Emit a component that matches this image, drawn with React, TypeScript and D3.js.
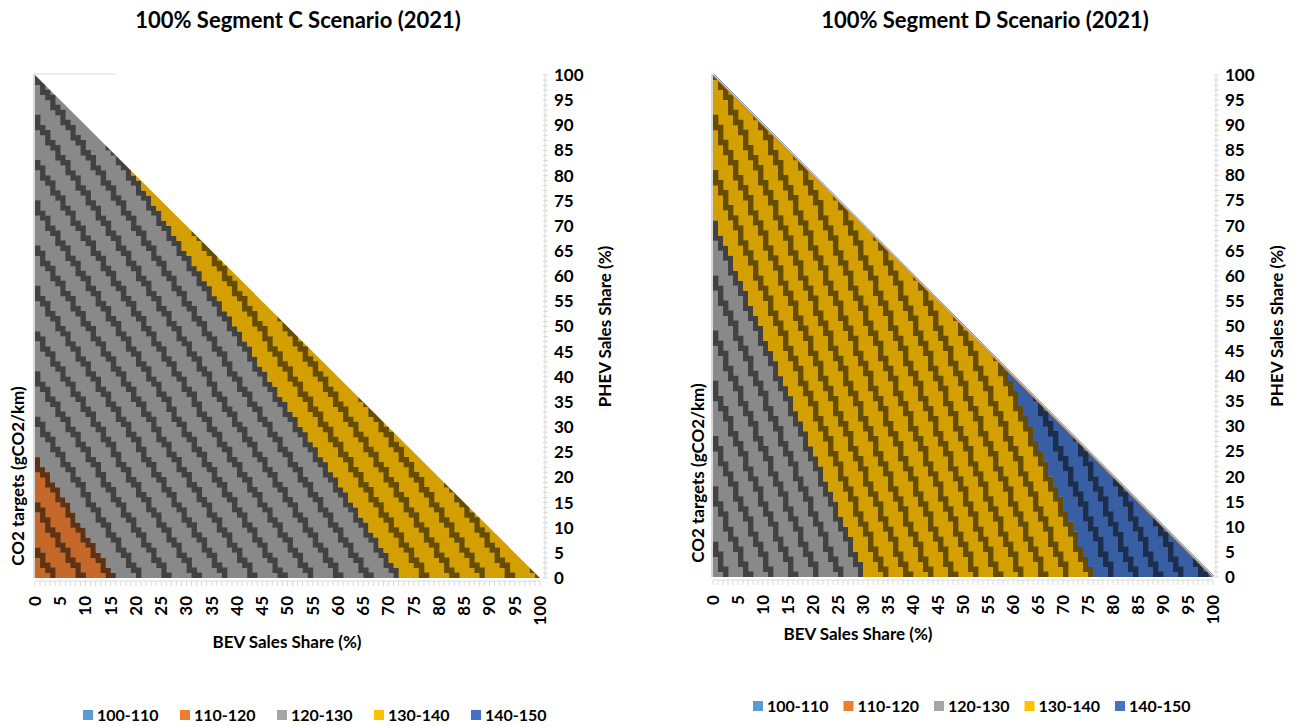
import React, { useMemo } from "react";
import * as d3 from "d3";

// CO2 target (gCO2/km) for a fleet made of 100% of one powertrain
const powertrains = ["ICE", "BEV", "PHEV"];
const segmentCTargets = [117.3, 135.0, 129.0];
const segmentDTargets = [123.4, 145.4, 132.8];

const bandLabels = ["100-110", "110-120", "120-130", "130-140", "140-150"];
const bandBreaks = [110, 120, 130, 140];
const bandColors = ["#5B9BD5", "#ED7D31", "#A5A5A5", "#FFC000", "#4472C4"];

const shareTicks = [0, 5, 10, 15, 20, 25, 30, 35, 40, 45, 50, 55, 60, 65, 70, 75, 80, 85, 90, 95, 100];

const FONT = "Lato, 'Open Sans', sans-serif";
const STEP = 1;

type PanelLayout = {
	title: string;
	targets: number[];
	x0: number;
	x1: number;
	yTop: number;
	yBot: number;
	axisX: number;
	titleX: number;
	xTitleX: number;
	xTitleY: number;
	leftTitleX: number;
	leftTitleY: number;
	rightTitleX: number;
	legendX: number;
	legendStep: number;
	legendY: number;
	edgeLine: boolean;
	topStub: number;
};

const panels: PanelLayout[] = [
	{
		title: "100% Segment C Scenario (2021)",
		targets: segmentCTargets,
		x0: 35, x1: 540, yTop: 75, yBot: 578, axisX: 545,
		titleX: 298, xTitleX: 287, xTitleY: 648, leftTitleX: 24, leftTitleY: 476, rightTitleX: 611,
		legendX: 83, legendStep: 97, legendY: 715, edgeLine: false, topStub: 16,
	},
	{
		title: "100% Segment D Scenario (2021)",
		targets: segmentDTargets,
		x0: 713, x1: 1213, yTop: 75, yBot: 577, axisX: 1216,
		titleX: 985, xTitleX: 858, xTitleY: 640, leftTitleX: 704, leftTitleY: 473, rightTitleX: 1283,
		legendX: 753, legendStep: 90.5, legendY: 706, edgeLine: true, topStub: 0,
	},
];

const shade = (c: string, k: number) => {
	const rgb = d3.rgb(c);
	return d3.rgb(rgb.r * k, rgb.g * k, rgb.b * k).formatHex();
};

const Panel: React.FC<{ p: PanelLayout; idx: number }> = ({ p, idx }) => {
	const x = d3.scaleLinear().domain([0, 100]).range([p.x0, p.x1]);
	const y = d3.scaleLinear().domain([0, 100]).range([p.yBot, p.yTop]);
	const band = d3.scaleThreshold<number, number>().domain(bandBreaks).range([0, 1, 2, 3, 4]);
	const ice = p.targets[powertrains.indexOf("ICE")];
	const bev = p.targets[powertrains.indexOf("BEV")];
	const phev = p.targets[powertrains.indexOf("PHEV")];
	const target = (b: number, s: number) =>
		ice * (1 - b / 100 - s / 100) + bev * (b / 100) + phev * (s / 100);

	// run-length encoded rows of cells, grouped into one path per colour
	const paths = useMemo(() => {
		const groups = new Map<string, string[]>();
		const n = Math.round(100 / STEP);
		for (let j = 0; j < n; j++) {
			const s = j * STEP;
			let runStart = 0;
			let runKey = "";
			const maxI = n - j;
			const flush = (endI: number) => {
				if (!runKey) return;
				const xa = x(runStart * STEP);
				const xb = x(endI * STEP) + 0.4;
				const ya = y(s + STEP) - 0.4;
				const yb = y(s);
				const arr = groups.get(runKey) || [];
				arr.push(`M${xa.toFixed(2)},${ya.toFixed(2)}H${xb.toFixed(2)}V${yb.toFixed(2)}H${xa.toFixed(2)}Z`);
				groups.set(runKey, arr);
			};
			for (let i = 0; i <= maxI; i++) {
				const b = i * STEP;
				const vLo = target(b, s);
				const vHi = target(b + STEP, s + STEP);
				// a cell that an integer contour passes through is drawn in the dark shade
				const dark = Math.floor(vLo) !== Math.floor(vHi);
				const bi = dark ? band(vLo) : band(target(b + STEP / 2, s + STEP / 2));
				const key = `${bi}|${dark ? 1 : 0}`;
				if (key !== runKey) {
					flush(i);
					runKey = key;
					runStart = i;
				}
			}
			flush(maxI + 1);
		}
		return Array.from(groups.entries()).map(([key, d]) => {
			const [bi, dark] = key.split("|").map(Number);
			return { key, d: d.join(""), fill: shade(bandColors[bi], dark ? 0.4 : 0.83) };
		});
	}, [p]);

	const clipId = `tri-${idx}`;
	const minor = d3.range(0, 101, 1);

	return (
		<g>
			<text x={p.titleX} y={28} textAnchor="middle" fontSize={22} fontWeight="bold" fill="#000">
				{p.title}
			</text>
			<defs>
				<clipPath id={clipId}>
					<polygon points={`${x(0)},${y(0)} ${x(100)},${y(0)} ${x(0)},${y(100)}`} />
				</clipPath>
			</defs>
			<line x1={x(0) - 1} x2={x(0) - 1} y1={y(100) - 1} y2={y(0)} stroke="#d9d9d9" strokeWidth={2} />
			{p.topStub > 0 && (
				<line x1={x(0) - 1} x2={x(p.topStub)} y1={y(100) - 1} y2={y(100) - 1} stroke="#e6e6e6" strokeWidth={1.5} />
			)}
			<g clipPath={`url(#${clipId})`}>
				{paths.map((g) => (
					<path key={g.key} d={g.d} fill={g.fill} />
				))}
			</g>
			{p.edgeLine && (
				<g>
					<line x1={x(0) + 1} y1={y(100) - 1} x2={x(100) + 1} y2={y(0) - 1} stroke="#5B9BD5" strokeWidth={1} />
					<line x1={x(0)} y1={y(100)} x2={x(100)} y2={y(0)} stroke="#d08a45" strokeWidth={1.3} />
				</g>
			)}
			{/* bottom axis */}
			<line x1={x(0)} x2={x(100)} y1={p.yBot + 3} y2={p.yBot + 3} stroke="#d9d9d9" strokeWidth={1} />
			{minor.map((t) => (
				<line key={`bx${t}`} x1={x(t)} x2={x(t)} y1={p.yBot + 3} y2={p.yBot + 8} stroke="#d9d9d9" strokeWidth={1} />
			))}
			{shareTicks.map((t) => (
				<text
					key={`bl${t}`}
					transform={`translate(${x(t)},${p.yBot + 18}) rotate(-90)`}
					textAnchor="end"
					dy="0.35em"
					fontSize={17}
					fontWeight="bold"
					fill="#000">
					{t}
				</text>
			))}
			{/* right axis */}
			<line x1={p.axisX} x2={p.axisX} y1={y(100)} y2={y(0)} stroke="#d9d9d9" strokeWidth={1} />
			{minor.map((t) => (
				<line key={`ry${t}`} x1={p.axisX - 2} x2={p.axisX + 3} y1={y(t)} y2={y(t)} stroke="#d9d9d9" strokeWidth={1} />
			))}
			{shareTicks.map((t) => (
				<text key={`rl${t}`} x={p.axisX + 9} y={y(t)} dy="0.35em" fontSize={17} fontWeight="bold" fill="#000">
					{t}
				</text>
			))}
			<text x={p.xTitleX} y={p.xTitleY} textAnchor="middle" fontSize={17} fontWeight="bold" fill="#000">
				BEV Sales Share (%)
			</text>
			<text
				transform={`translate(${p.rightTitleX},${(p.yTop + p.yBot) / 2}) rotate(-90)`}
				textAnchor="middle"
				fontSize={17}
				fontWeight="bold"
				fill="#000">
				PHEV Sales Share (%)
			</text>
			<text
				transform={`translate(${p.leftTitleX},${p.leftTitleY}) rotate(-90)`}
				textAnchor="middle"
				fontSize={17}
				fontWeight="bold"
				fill="#000">
				CO2 targets (gCO2/km)
			</text>
			{/* legend */}
			{bandLabels.map((l, i) => (
				<g key={l} transform={`translate(${p.legendX + i * p.legendStep},${p.legendY})`}>
					<rect x={0} y={-5} width={10} height={10} fill={bandColors[i]} />
					<text x={14} dy="0.35em" fontSize={16} fontWeight="bold" fill="#000">
						{l}
					</text>
				</g>
			))}
		</g>
	);
};

export default function App() {
	return (
		<svg
			width={1296}
			height={726}
			style={{ position: "absolute", left: 0, top: 0, background: "#fff", fontFamily: FONT }}>
			{panels.map((p, i) => (
				<Panel key={p.title} p={p} idx={i} />
			))}
		</svg>
	);
}
